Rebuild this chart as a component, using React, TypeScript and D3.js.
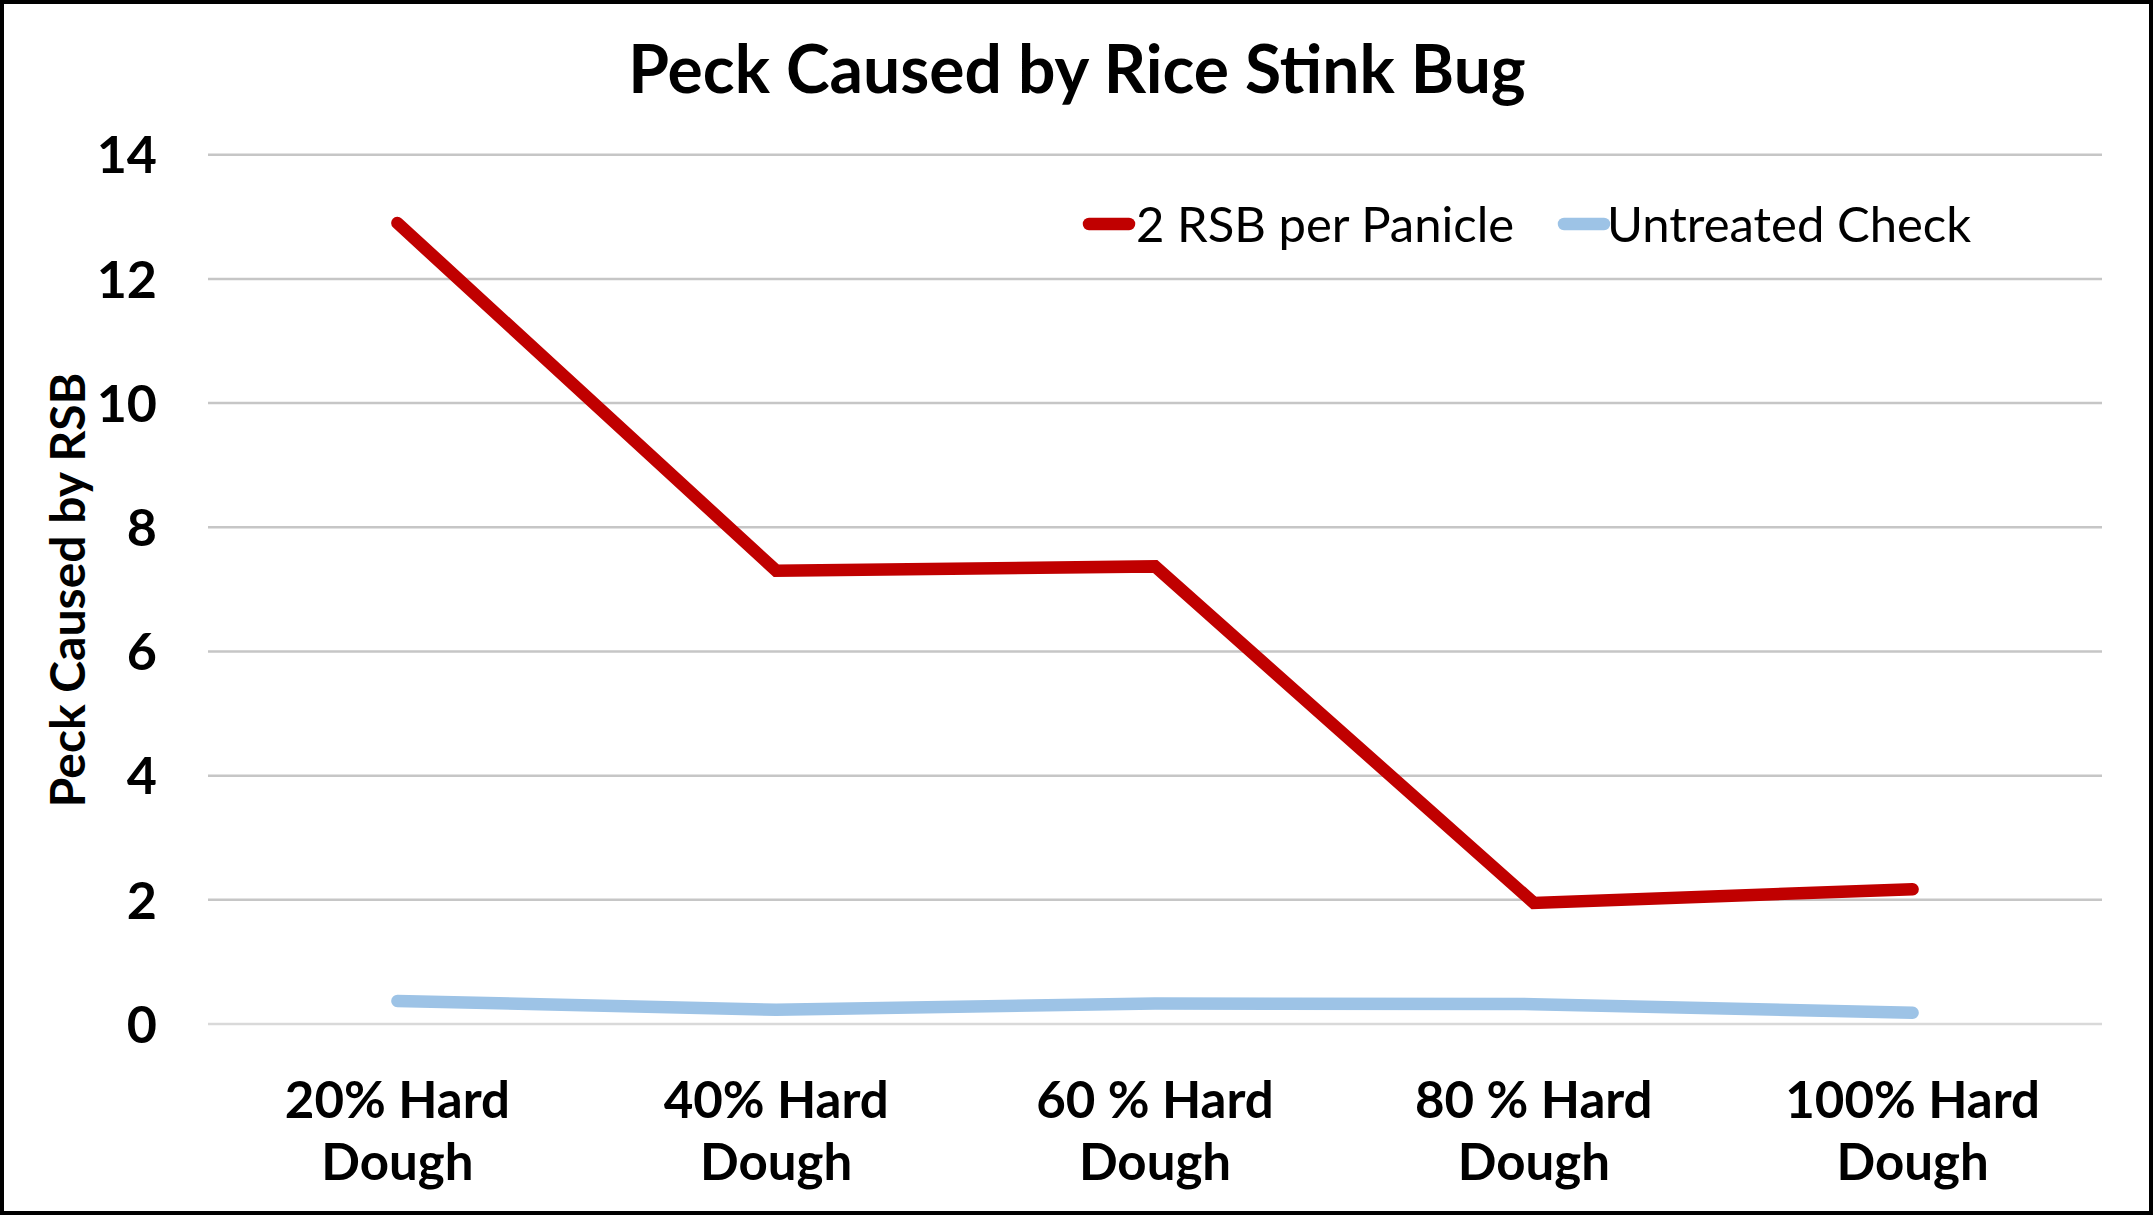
import React from "react";
import * as d3 from "d3";

const categories: string[][] = [
  ["20% Hard", "Dough"],
  ["40% Hard", "Dough"],
  ["60 % Hard", "Dough"],
  ["80 % Hard", "Dough"],
  ["100% Hard", "Dough"],
];
const rsbValues = [12.9, 7.3, 7.37, 1.95, 2.17];
const checkValues = [0.37, 0.23, 0.33, 0.32, 0.18];
const yTicks = [0, 2, 4, 6, 8, 10, 12, 14];
const seriesNames = ["2 RSB per Panicle", "Untreated Check"];
const seriesColors = ["#C00000", "#9DC3E6"];
const title = "Peck Caused by Rice Stink Bug";
const yTitle = "Peck Caused by RSB";

const W = 2153;
const H = 1215;
const FONT = "Lato, 'Open Sans', sans-serif";

export default function App() {
  const left = 208;
  const right = 2102;
  const top = 154.7;
  const bottom = 1024;
  const x = d3
    .scaleBand<number>()
    .domain(d3.range(categories.length))
    .range([left, right]);
  const y = d3.scaleLinear().domain([0, 14]).range([bottom, top]);
  const cx = (i: number) => (x(i) as number) + x.bandwidth() / 2;
  const line = d3
    .line<number>()
    .x((_, i) => cx(i))
    .y((d) => y(d));
  const series = [rsbValues, checkValues];

  return (
    <svg
      width={W}
      height={H}
      style={{ position: "absolute", left: 0, top: 0, background: "#fff" }}
    >
      <rect x={0} y={0} width={W} height={H} fill="#fff" />
      <rect
        x={2}
        y={2}
        width={W - 4}
        height={H - 4}
        fill="none"
        stroke="#000"
        strokeWidth={4}
      />
      <text
        x={1077}
        y={93}
        textAnchor="middle"
        fontFamily={FONT}
        fontWeight={700}
        fontSize={66}
        fill="#000"
      >
        {title}
      </text>
      {yTicks.map((t) => (
        <g key={t}>
          <line
            x1={left}
            x2={right}
            y1={y(t)}
            y2={y(t)}
            stroke={t === 0 ? "#d9d9d9" : "#c6c6c6"}
            strokeWidth={2.5}
          />
          <text
            x={157}
            y={y(t)}
            dy="0.36em"
            textAnchor="end"
            fontFamily={FONT}
            fontWeight={700}
            fontSize={52}
            fill="#000"
          >
            {t}
          </text>
        </g>
      ))}
      <text
        transform={`translate(68, 590) rotate(-90)`}
        textAnchor="middle"
        dy="0.36em"
        fontFamily={FONT}
        fontWeight={700}
        fontSize={48}
        fill="#000"
      >
        {yTitle}
      </text>
      {categories.map((lines, i) => (
        <text
          key={i}
          x={cx(i)}
          textAnchor="middle"
          fontFamily={FONT}
          fontWeight={700}
          fontSize={51}
          fill="#000"
        >
          {lines.map((l, j) => (
            <tspan key={j} x={cx(i)} y={1118 + j * 62}>
              {l}
            </tspan>
          ))}
        </text>
      ))}
      {series.map((s, k) => (
        <path
          key={k}
          d={line(s) as string}
          fill="none"
          stroke={seriesColors[k]}
          strokeWidth={12.5}
          strokeLinecap="round"
          strokeLinejoin="miter"
        />
      ))}
      {/* legend */}
      {[
        { sx: 1089, tx: 1136 },
        { sx: 1564, tx: 1607 },
      ].map((p, k) => (
        <g key={k}>
          <line
            x1={p.sx}
            x2={p.sx + 40}
            y1={224}
            y2={224}
            stroke={seriesColors[k]}
            strokeWidth={12.5}
            strokeLinecap="round"
          />
          <text
            x={p.tx}
            y={224}
            dy="0.36em"
            fontFamily={FONT}
            fontSize={49}
            fill="#000"
          >
            {seriesNames[k]}
          </text>
        </g>
      ))}
    </svg>
  );
}
